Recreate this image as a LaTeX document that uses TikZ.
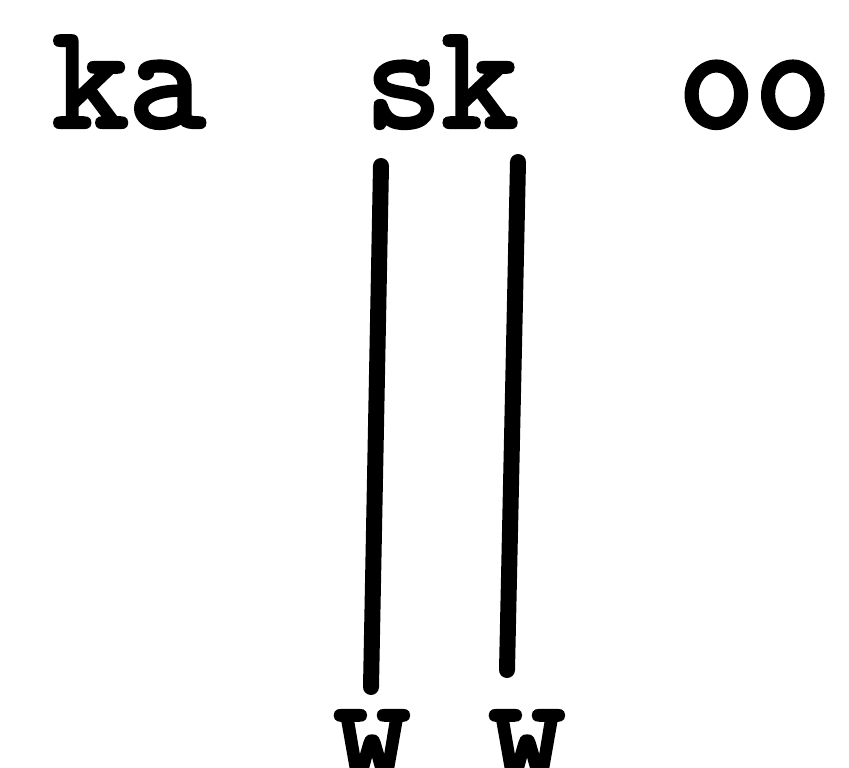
\documentclass[tikz,border=0pt]{standalone}
\usepackage{fontspec}
\setmonofont{Latin Modern Mono}[BoldFont={Latin Modern Mono},BoldFeatures={FakeBold=3}]
\begin{document}
\begin{tikzpicture}[x=1bp,y=-1bp,
  lbl/.style={inner sep=0pt, anchor=base west, font=\ttfamily\bfseries\fontsize{149}{160}\selectfont},
  bar/.style={line width=16bp, line cap=round}]
\useasboundingbox (0,0) rectangle (849,768);
\clip (0,0) rectangle (849,768);
\fill[white] (0,0) rectangle (849,768);
\node[lbl] (ka) at (52,127) {ka};
\node[lbl] (sk) at (365,127) {sk};
\node[lbl] (oo) at (678,127) {oo};
\node[lbl, anchor=base] (w1) at (372,775) {w};
\node[lbl, anchor=base] (w2) at (527,775) {w};
\coordinate (a1) at (381,166);
\coordinate (b1) at (371,687);
\coordinate (a2) at (518,162);
\coordinate (b2) at (507,670);
\draw[bar] (a1) -- (b1);
\draw[bar] (a2) -- (b2);
\end{tikzpicture}
\end{document}
